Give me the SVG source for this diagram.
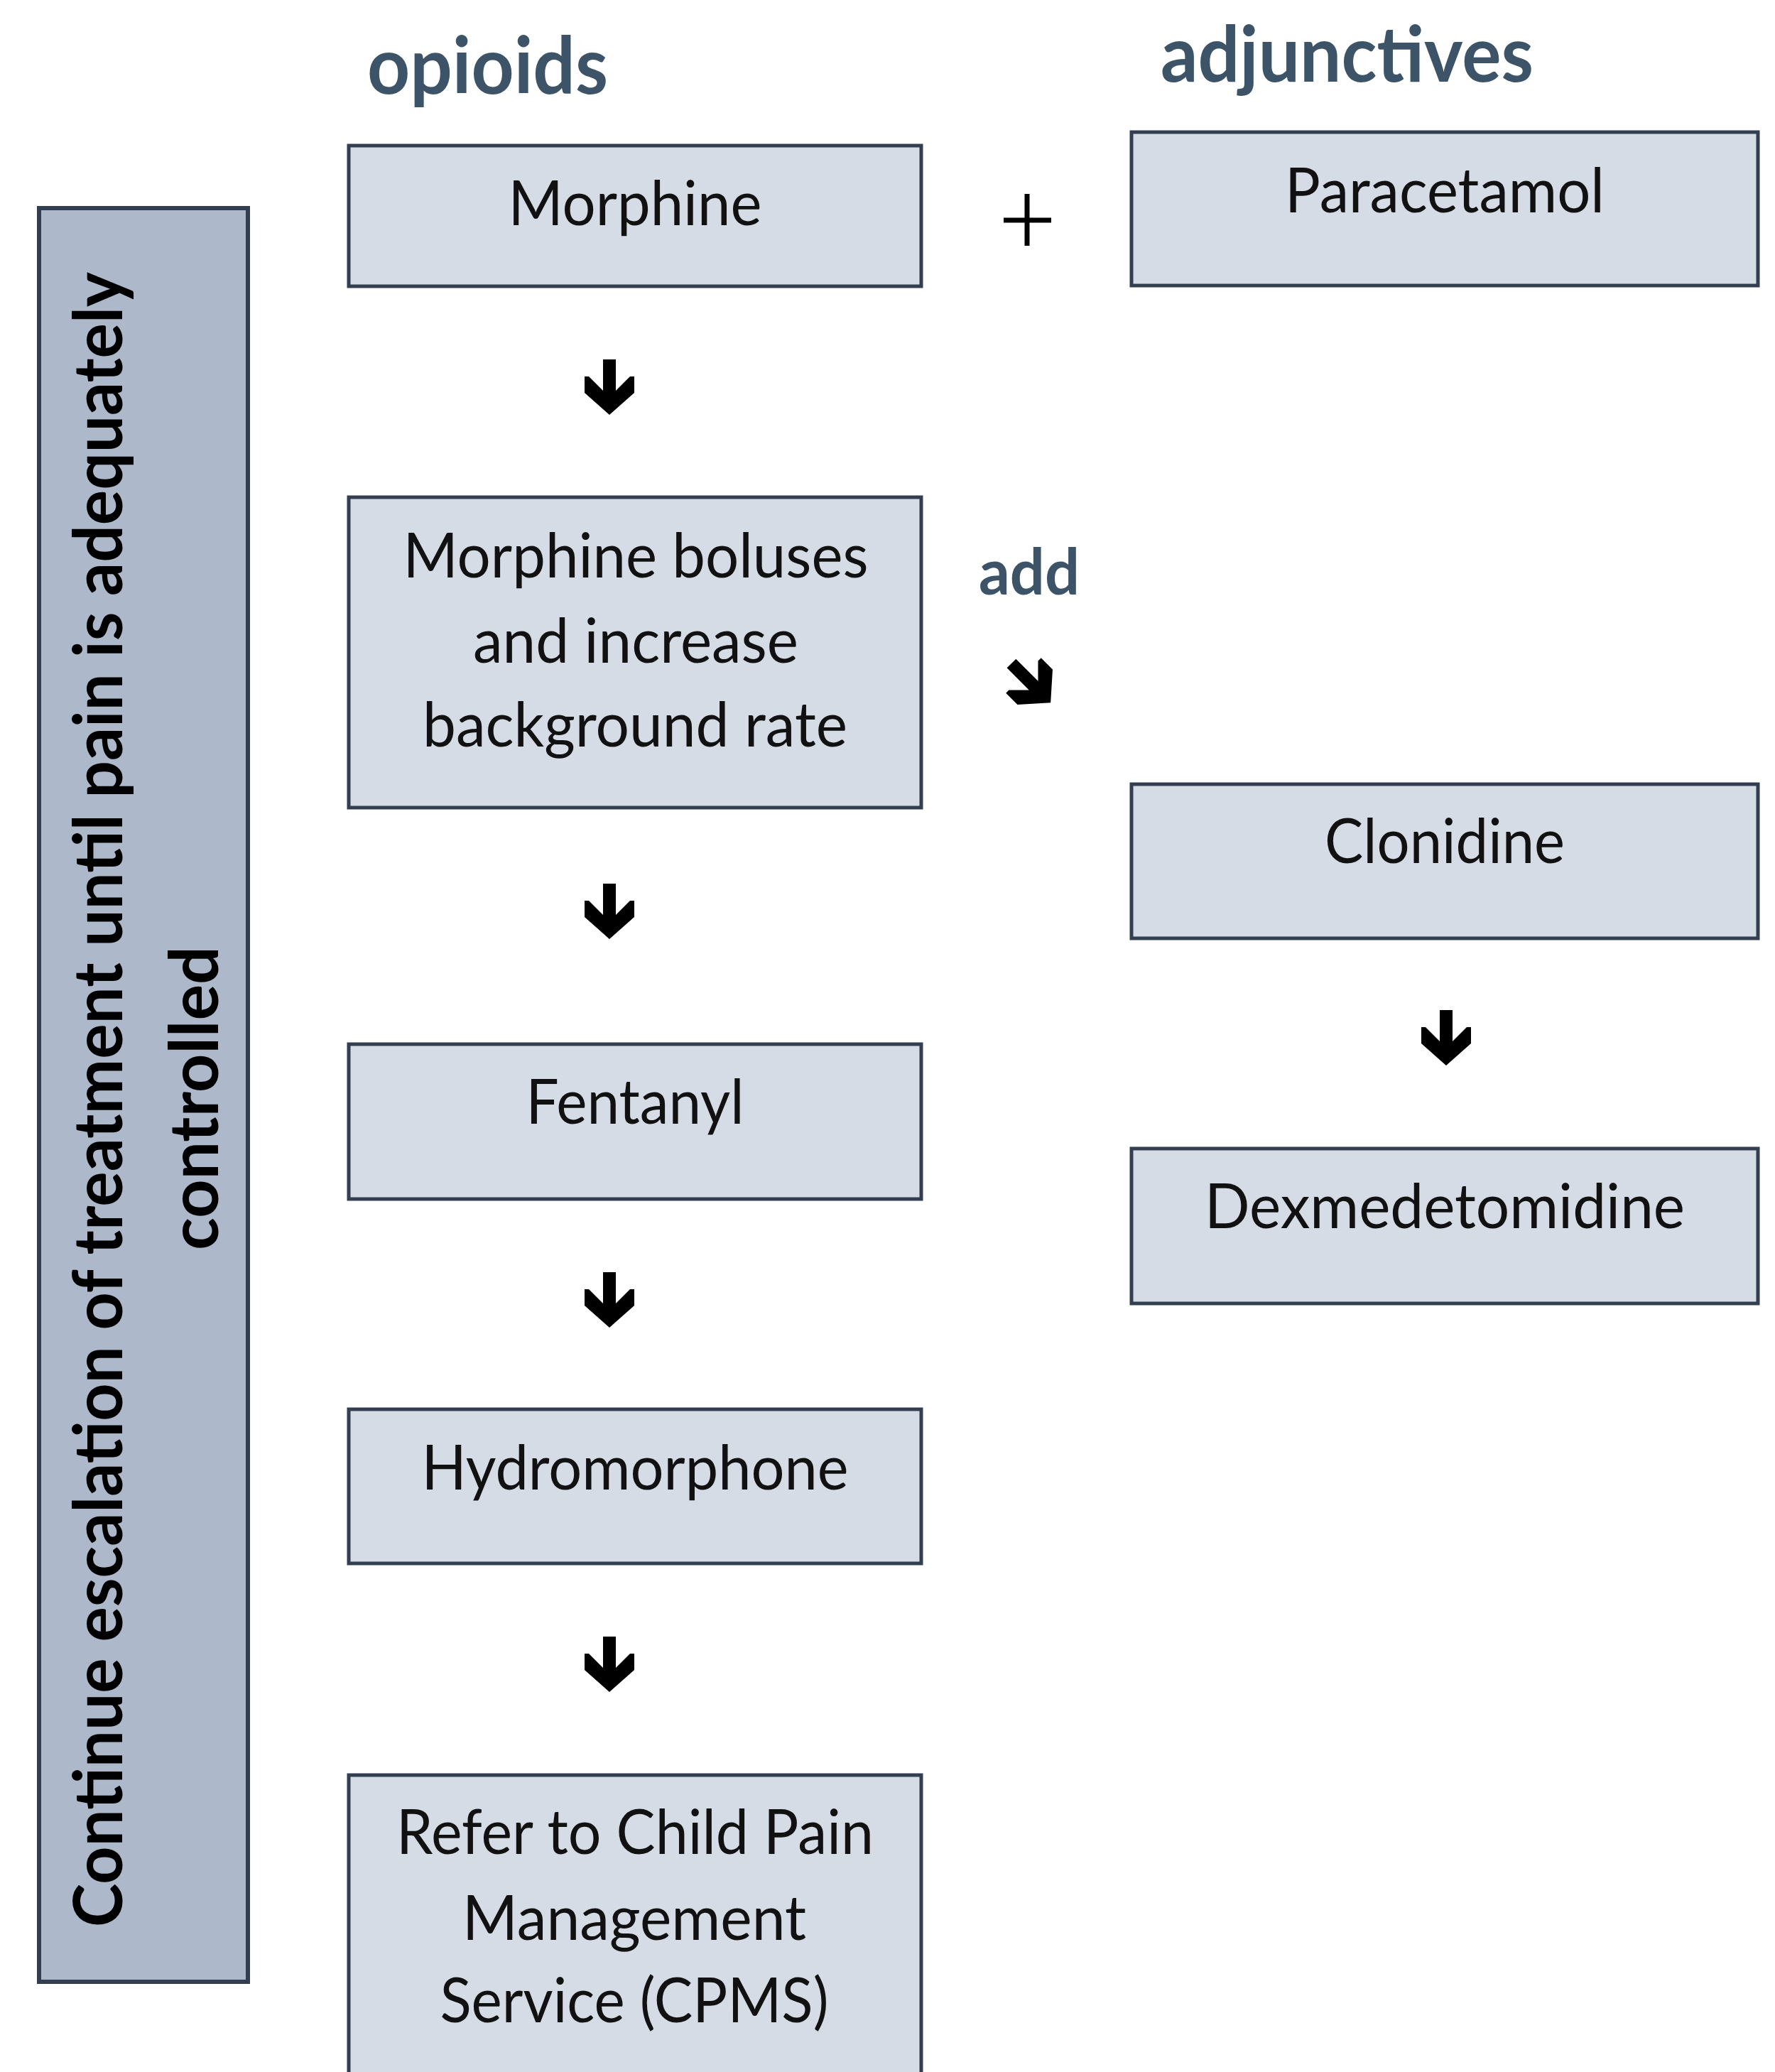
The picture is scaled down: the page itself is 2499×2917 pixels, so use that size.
<svg xmlns="http://www.w3.org/2000/svg" width="2499" height="2917" viewBox="0 0 2499 2917">
<style>
.box{fill:#d6dce5;stroke:#333f50;stroke-width:5}
.side{fill:#adb9ca;stroke:#333f50;stroke-width:6}
.t{font-family:Lato,"Open Sans","Liberation Sans",sans-serif;font-size:88px;fill:#111;text-anchor:middle}
.h{font-family:Lato,"Open Sans","Liberation Sans",sans-serif;font-weight:700;fill:#3d5367}
.v{font-family:Lato,"Open Sans","Liberation Sans",sans-serif;font-weight:700;font-size:96px;fill:#000;text-anchor:middle}
.arr{fill:#000}
.plus{stroke:#000;stroke-width:7}
</style>
<defs>
<path id="arrow" d="M-9,0 L9,0 L9,44 L29,24 L35,24 L35,47 L0,78 L-35,47 L-35,24 L-29,24 L-9,44 Z"/>
</defs>
<rect width="2499" height="2917" fill="#fff"/>

<g id="side-label">
<rect class="side" x="55" y="293" width="294" height="2497"/>
<text class="v" transform="translate(172,1548) rotate(-90)" textLength="2330" lengthAdjust="spacingAndGlyphs">Continue escalation of treatment until pain is adequately</text>
<text class="v" transform="translate(307,1546) rotate(-90)" textLength="428" lengthAdjust="spacingAndGlyphs">controlled</text>
</g>

<g id="heading-opioids">
<text class="h" x="517" y="132" font-size="111" textLength="339" lengthAdjust="spacingAndGlyphs">opioids</text>
</g>
<g id="heading-adjunctives">
<text class="h" x="1634" y="115" font-size="110" textLength="525" lengthAdjust="spacingAndGlyphs">adjunctives</text>
</g>
<g id="label-add">
<text class="h" x="1378" y="837" font-size="90" textLength="142" lengthAdjust="spacingAndGlyphs">add</text>
</g>
<g id="label-plus">
<line class="plus" x1="1446" y1="273" x2="1446" y2="346"/>
<line class="plus" x1="1413" y1="310" x2="1480" y2="310"/>
</g>

<g id="node-morphine">
<rect class="box" x="491" y="205" width="806" height="198"/>
<text class="t" x="894" y="317" textLength="357" lengthAdjust="spacingAndGlyphs">Morphine</text>
</g>
<g id="node-boluses">
<rect class="box" x="491" y="700" width="806" height="437"/>
<text class="t" x="895" y="813" textLength="655" lengthAdjust="spacingAndGlyphs">Morphine boluses</text>
<text class="t" x="895" y="933" textLength="458" lengthAdjust="spacingAndGlyphs">and increase</text>
<text class="t" x="894" y="1051" textLength="598" lengthAdjust="spacingAndGlyphs">background rate</text>
</g>
<g id="node-fentanyl">
<rect class="box" x="491" y="1470" width="806" height="218"/>
<text class="t" x="894" y="1582" textLength="307" lengthAdjust="spacingAndGlyphs">Fentanyl</text>
</g>
<g id="node-hydromorphone">
<rect class="box" x="491" y="1984" width="806" height="217"/>
<text class="t" x="894" y="2097" textLength="601" lengthAdjust="spacingAndGlyphs">Hydromorphone</text>
</g>
<g id="node-cpms">
<rect class="box" x="491" y="2499" width="806" height="500"/>
<text class="t" x="894" y="2610" textLength="672" lengthAdjust="spacingAndGlyphs">Refer to Child Pain</text>
<text class="t" x="893" y="2731" textLength="484" lengthAdjust="spacingAndGlyphs">Management</text>
<text class="t" x="893" y="2847" textLength="547" lengthAdjust="spacingAndGlyphs">Service (CPMS)</text>
</g>

<g id="node-paracetamol">
<rect class="box" x="1593" y="186" width="882" height="216"/>
<text class="t" x="2034" y="299" textLength="450" lengthAdjust="spacingAndGlyphs">Paracetamol</text>
</g>
<g id="node-clonidine">
<rect class="box" x="1593" y="1104" width="882" height="217"/>
<text class="t" x="2034" y="1215" textLength="338" lengthAdjust="spacingAndGlyphs">Clonidine</text>
</g>
<g id="node-dexmedetomidine">
<rect class="box" x="1593" y="1617" width="882" height="218"/>
<text class="t" x="2034" y="1729" textLength="676" lengthAdjust="spacingAndGlyphs">Dexmedetomidine</text>
</g>

<g id="connectors">
<use href="#arrow" class="arr" transform="translate(858,506)"/>
<use href="#arrow" class="arr" transform="translate(858,1244)"/>
<use href="#arrow" class="arr" transform="translate(858,1791)"/>
<use href="#arrow" class="arr" transform="translate(858,2304)"/>
<use href="#arrow" class="arr" transform="translate(2036,1422)"/>
<use href="#arrow" class="arr" transform="translate(1424,934) rotate(-45)"/>
</g>
</svg>
